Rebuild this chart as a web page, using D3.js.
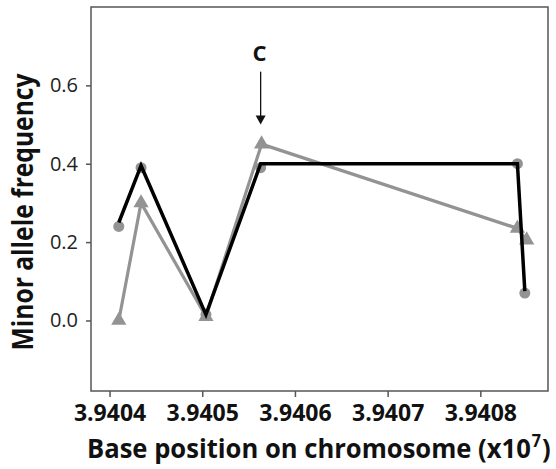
<!DOCTYPE html>
<html lang="en">

<head>
    <meta charset="UTF-8">
    <title>Minor allele frequency</title>
    <script src="https://d3js.org/d3.v7.min.js"></script>
    <style>
        body { margin: 0; background: #fff; }
        text { font-family: "Open Sans", "DejaVu Sans", sans-serif; }
    </style>
</head>

<body>
    <script>
        // data (positions in units of 10^7)
        var xTicks = [3.9404, 3.9405, 3.9406, 3.9407, 3.9408];
        var yTicks = [0.0, 0.2, 0.4, 0.6];

        var blackPos = [3.94041, 3.940434, 3.940504, 3.940563, 3.94084, 3.940848];
        var blackLineFreq = [0.25, 0.395, 0.015, 0.40, 0.40, 0.075];
        var circleFreq = [0.24, 0.39, 0.015, 0.39, 0.40, 0.07];

        var grayPos = [3.94041, 3.940434, 3.940504, 3.940564, 3.94084, 3.94085];
        var triangleFreq = [0.0, 0.30, 0.01, 0.45, 0.235, 0.205];

        var arrowPos = 3.940563;
        var arrowFrom = 0.635, arrowTo = 0.50;

        var width = 556, height = 469;
        var margin = { top: 7, right: 8, bottom: 78, left: 91 };

        var svg = d3.select("body").append("svg")
            .attr("width", width)
            .attr("height", height);

        var x = d3.scaleLinear()
            .domain([3.94038, 3.940873])
            .range([margin.left, width - margin.right]);

        var y = d3.scaleLinear()
            .domain([-0.18, 0.80])
            .range([height - margin.bottom, margin.top]);

        var frameColor = "#555";
        var gray = "#939393";

        // frame
        svg.append("rect")
            .attr("x", margin.left)
            .attr("y", margin.top)
            .attr("width", width - margin.left - margin.right)
            .attr("height", height - margin.top - margin.bottom)
            .attr("fill", "none")
            .attr("stroke", frameColor)
            .attr("stroke-width", 1.5);

        // x axis
        var xAxis = svg.append("g")
            .attr("transform", "translate(0," + (height - margin.bottom) + ")")
            .call(d3.axisBottom(x).tickValues(xTicks).tickSize(6).tickPadding(8).tickFormat(d3.format(".4f")));
        xAxis.select(".domain").remove();
        xAxis.selectAll("line").attr("stroke", frameColor).attr("stroke-width", 1.5);
        xAxis.selectAll("text")
            .attr("fill", "#111")
            .style("font-size", "23px")
            .style("font-weight", "bold");

        // y axis
        var yAxis = svg.append("g")
            .attr("transform", "translate(" + margin.left + ",0)")
            .call(d3.axisLeft(y).tickValues(yTicks).tickSize(5).tickPadding(8).tickFormat(d3.format(".1f")));
        yAxis.select(".domain").remove();
        yAxis.selectAll("line").attr("stroke", frameColor).attr("stroke-width", 1.5);
        yAxis.selectAll("text")
            .attr("fill", "#222")
            .style("font-size", "20px");

        // gray series
        var grayData = grayPos.map(function (p, i) { return [p, triangleFreq[i]]; });
        svg.append("path")
            .datum(grayData)
            .attr("fill", "none")
            .attr("stroke", gray)
            .attr("stroke-width", 3.2)
            .attr("stroke-linejoin", "round")
            .attr("d", d3.line().x(d => x(d[0])).y(d => y(d[1])));

        svg.selectAll("path.tri")
            .data(grayData)
            .enter().append("path")
            .attr("class", "tri")
            .attr("transform", d => "translate(" + x(d[0]) + "," + y(d[1]) + ")")
            .attr("d", d3.symbol().type(d3.symbolTriangle).size(100))
            .attr("fill", gray);

        // circles
        svg.selectAll("circle")
            .data(blackPos.map(function (p, i) { return [p, circleFreq[i]]; }))
            .enter().append("circle")
            .attr("cx", d => x(d[0]))
            .attr("cy", d => y(d[1]))
            .attr("r", 5.5)
            .attr("fill", gray);

        // black line
        svg.append("path")
            .datum(blackPos.map(function (p, i) { return [p, blackLineFreq[i]]; }))
            .attr("fill", "none")
            .attr("stroke", "#000")
            .attr("stroke-width", 3.5)
            .attr("stroke-linejoin", "miter")
            .attr("d", d3.line().x(d => x(d[0])).y(d => y(d[1])));

        // arrow with label C
        svg.append("line")
            .attr("x1", x(arrowPos)).attr("x2", x(arrowPos))
            .attr("y1", y(arrowFrom)).attr("y2", y(arrowTo) - 4)
            .attr("stroke", "#111")
            .attr("stroke-width", 1.3);
        svg.append("path")
            .attr("d", "M" + (x(arrowPos) - 5) + "," + (y(arrowTo) - 9) + "L" + x(arrowPos) + "," + y(arrowTo) + "L" + (x(arrowPos) + 5) + "," + (y(arrowTo) - 9) + "Z")
            .attr("fill", "#111");
        svg.append("text")
            .attr("x", x(arrowPos) - 1)
            .attr("y", y(arrowFrom) - 11)
            .attr("text-anchor", "middle")
            .style("font-size", "22px")
            .style("font-weight", "bold")
            .attr("fill", "#111")
            .text("C");

        // x title, squeezed horizontally to the reference width
        var xTitleG = svg.append("g");
        var xTitle = xTitleG.append("text")
            .style("font-size", "27px")
            .style("font-weight", "bold")
            .attr("fill", "#111");
        xTitle.append("tspan").text("Base position on chromosome (x10");
        xTitle.append("tspan").attr("dx", 1).attr("dy", -11).style("font-size", "17px").text("7");
        xTitle.append("tspan").attr("dx", 1).attr("dy", 11).text(")");
        var natural = xTitle.node().getComputedTextLength();
        xTitleG.attr("transform", "translate(87,458) scale(" + (462 / natural) + ",1)");

        svg.append("text")
            .attr("transform", "translate(33,212) rotate(-90)")
            .attr("text-anchor", "middle")
            .attr("textLength", 277)
            .attr("lengthAdjust", "spacingAndGlyphs")
            .style("font-size", "28px")
            .style("font-weight", "bold")
            .attr("fill", "#111")
            .text("Minor allele frequency");
    </script>
</body>

</html>
